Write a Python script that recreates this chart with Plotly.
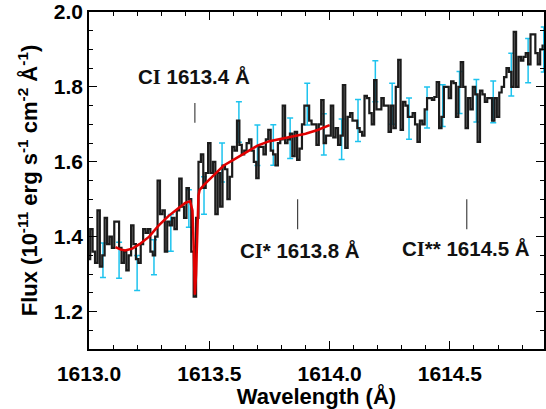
import numpy as np
import plotly.graph_objects as go

# Observed spectrum (0.01 A bins starting at 1612.99 A), flux in 1e-11 erg/s/cm2/A
flux = [
    1.40, 1.34, 1.42, 1.36, 1.33, 1.47, 1.32, 1.35, 1.45, 1.38,   # 1612.99-1613.08
    1.40, 1.37, 1.44, 1.44, 1.37, 1.33, 1.36, 1.31, 1.35, 1.43,   # 1613.09-1613.18
    1.38, 1.34, 1.33, 1.38, 1.42, 1.41, 1.42, 1.36, 1.35, 1.40,   # 1613.19-1613.28
    1.55, 1.46, 1.47, 1.36, 1.44, 1.43, 1.45, 1.42, 1.47, 1.555,  # 1613.29-1613.38
    1.48, 1.45, 1.53, 1.50, 1.36, 1.24, 1.45, 1.60, 1.62, 1.53,   # 1613.39-1613.48
    1.57, 1.65, 1.57, 1.60, 1.46, 1.57, 1.48, 1.59, 1.58, 1.50,   # 1613.49-1613.58
    1.56, 1.64, 1.63, 1.71, 1.645, 1.62, 1.63, 1.65, 1.66, 1.63,  # 1613.59-1613.68
    1.60, 1.556, 1.64, 1.64, 1.62, 1.66, 1.685, 1.63, 1.62, 1.59, # 1613.69-1613.78
    1.65, 1.66, 1.75, 1.65, 1.66, 1.675, 1.615, 1.68, 1.605, 1.635,  # 1613.79-1613.88
    1.70, 1.75, 1.75, 1.71, 1.70, 1.70, 1.645, 1.70, 1.765, 1.65, # 1613.89-1613.98
    1.67, 1.67, 1.75, 1.665, 1.69, 1.645, 1.67, 1.805, 1.637, 1.72,  # 1613.99-1614.08
    1.73, 1.71, 1.71, 1.69, 1.68, 1.67, 1.776, 1.77, 1.73, 1.70,  # 1614.09-1614.18
    1.818, 1.74, 1.74, 1.77, 1.75, 1.75, 1.68, 1.75, 1.69, 1.80, # 1614.19-1614.28
    1.872, 1.685, 1.76, 1.75, 1.72, 1.72, 1.73, 1.70, 1.653, 1.71,  # 1614.29-1614.38
    1.70, 1.74, 1.77, 1.77, 1.765, 1.773, 1.813, 1.69, 1.72, 1.80,  # 1614.39-1614.48
    1.80, 1.77, 1.815, 1.81, 1.72, 1.80, 1.866, 1.80, 1.69, 1.77,   # 1614.49-1614.58
    1.74, 1.80, 1.78, 1.653, 1.79, 1.78, 1.76, 1.77, 1.77, 1.71,    # 1614.59-1614.68
    1.77, 1.72, 1.785, 1.80, 1.826, 1.85, 1.84, 1.80, 1.947, 1.80,  # 1614.69-1614.78
    1.88, 1.87, 1.88, 1.89, 1.86, 1.94, 1.94, 1.89, 1.86, 1.90,     # 1614.79-1614.88
    1.91,                                                           # 1614.89
]
wave_start = 1612.99
wave_step = 0.01
wave = np.round(wave_start + wave_step * np.arange(len(flux)), 3)

# Representative error bars
err_wave = [1613.058, 1613.125, 1613.200, 1613.270, 1613.340, 1613.415, 1613.478,
            1613.553, 1613.623, 1613.700, 1613.766, 1613.836, 1613.907, 1613.976,
            1614.050, 1614.118, 1614.190, 1614.260, 1614.330, 1614.405, 1614.470,
            1614.540, 1614.610, 1614.680, 1614.755, 1614.825, 1614.890]
err_flux = [1.337, 1.337, 1.303, 1.345, 1.410, 1.475, 1.510,
            1.598, 1.706, 1.644, 1.645, 1.663, 1.754, 1.673,
            1.660, 1.710, 1.815, 1.755, 1.715, 1.745, 1.750,
            1.785, 1.763, 1.760, 1.833, 1.870, 1.900]
err_sig = [0.046, 0.048, 0.047, 0.047, 0.049, 0.050, 0.050,
           0.052, 0.054, 0.054, 0.054, 0.054, 0.056, 0.055,
           0.054, 0.056, 0.055, 0.055, 0.055, 0.055, 0.056,
           0.056, 0.057, 0.056, 0.057, 0.059, 0.060]

# Model fit (red)
model_wave = [1613.11, 1613.13, 1613.15, 1613.18, 1613.21, 1613.25, 1613.29,
              1613.33, 1613.37, 1613.40, 1613.42, 1613.43, 1613.435, 1613.44,
              1613.445, 1613.45, 1613.455, 1613.46, 1613.48, 1613.52, 1613.56,
              1613.60, 1613.65, 1613.70, 1613.75, 1613.80, 1613.85, 1613.90,
              1613.95, 1614.00]
model_flux = [1.372, 1.366, 1.363, 1.368, 1.380, 1.400, 1.430,
              1.455, 1.475, 1.490, 1.495, 1.470, 1.380, 1.245,
              1.300, 1.450, 1.510, 1.525, 1.540, 1.565, 1.590,
              1.605, 1.625, 1.643, 1.655, 1.662, 1.668, 1.675,
              1.685, 1.698]

# Line identifications
line_labels = ["C<span style='font-family:Liberation Serif'>I</span> 1613.4 Å",
               "C<span style='font-family:Liberation Serif'>I</span>* 1613.8 Å",
               "C<span style='font-family:Liberation Serif'>I</span>** 1614.5 Å"]
line_wave = [1613.44, 1613.867, 1614.57]
line_label_x = [1613.435, 1613.875, 1614.565]
line_label_y = [1.829, 1.364, 1.368]
line_tick_lo = [1.704, 1.42, 1.42]
line_tick_hi = [1.757, 1.50, 1.50]

FONT = "Liberation Sans, Arial"

fig = go.Figure()

fig.add_trace(go.Scatter(
    x=err_wave, y=err_flux, mode="markers",
    marker=dict(size=1, opacity=0),
    error_y=dict(type="data", array=err_sig, color="#1EC3EE", thickness=1.5, width=3),
    showlegend=False, hoverinfo="skip"))

fig.add_trace(go.Scatter(
    x=wave, y=flux, mode="lines", line=dict(shape="hvh", color="#1c1c1c", width=2.2),
    showlegend=False))

fig.add_trace(go.Scatter(
    x=model_wave, y=model_flux, mode="lines", line=dict(color="#E00000", width=2.5),
    showlegend=False))

for w, lo, hi in zip(line_wave, line_tick_lo, line_tick_hi):
    fig.add_shape(type="line", x0=w, x1=w, y0=lo, y1=hi, xref="x", yref="y",
                  line=dict(color="#444444", width=1.2))

for t, x, y in zip(line_labels, line_label_x, line_label_y):
    fig.add_annotation(x=x, y=y, text=t, showarrow=False, xanchor="center", yanchor="middle",
                       font=dict(family=FONT, size=20.5, color="#111111", weight="bold"))

axis_common = dict(
    showline=True, linecolor="black", linewidth=1.5, mirror="allticks",
    ticks="inside", ticklen=8, tickwidth=1.2, tickcolor="black",
    showgrid=False, zeroline=False, automargin=False,
    tickfont=dict(family=FONT, size=21, color="black", weight="bold"),
)

fig.update_xaxes(
    range=[1613.0, 1614.891], tick0=1613.0, dtick=0.5, tickformat=".1f",
    ticklabelstandoff=5,
    minor=dict(ticks="inside", ticklen=4, dtick=0.1, tickcolor="black", tickwidth=1),
    title=dict(text="Wavelength (Å)", standoff=6,
               font=dict(family=FONT, size=22, color="black", weight="bold")),
    **axis_common)
fig.update_yaxes(
    range=[1.1, 2.0], tick0=1.2, dtick=0.2, tickformat=".1f",
    minor=dict(ticks="inside", ticklen=4, dtick=0.05, tickcolor="black", tickwidth=1),
    title=dict(text="Flux (10<sup>-11</sup> erg s<sup>-1</sup> cm<sup>-2</sup> Å<sup>-1</sup>)", standoff=10,
               font=dict(family=FONT, size=22, color="black", weight="bold")),
    **axis_common)

fig.update_layout(
    width=546, height=409,
    margin=dict(l=89, r=2, t=12, b=60),
    paper_bgcolor="white", plot_bgcolor="white",
)

fig.write_html("out.html", config={"displayModeBar": False},
               post_script="document.body.style.margin='0';document.body.style.overflow='hidden';")
